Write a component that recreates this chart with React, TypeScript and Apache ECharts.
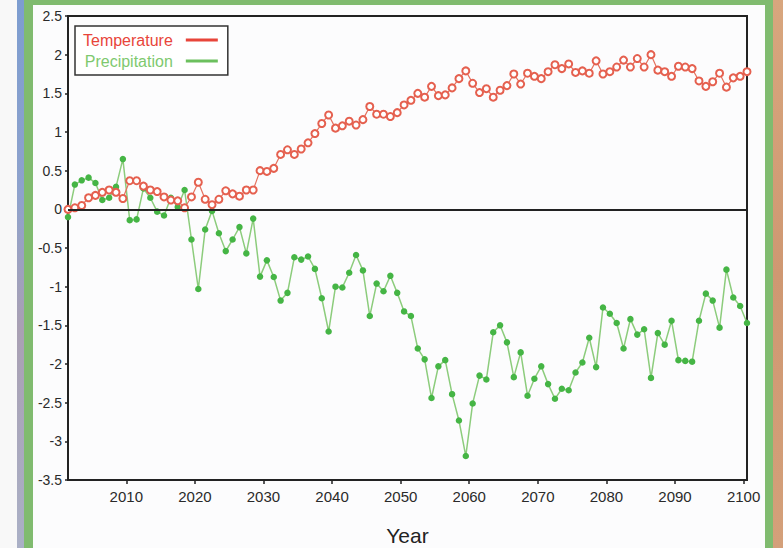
import React, { useEffect, useRef } from "react";
import * as echarts from "echarts";

const years: number[] = Array.from({ length: 100 }, (_, i) => 2001 + i);

const temperature: number[] = [
  0.0, 0.02, 0.05, 0.15, 0.18, 0.22, 0.25, 0.22, 0.14, 0.37,
  0.37, 0.3, 0.25, 0.23, 0.16, 0.12, 0.11, 0.02, 0.16, 0.35,
  0.13, 0.06, 0.13, 0.24, 0.2, 0.17, 0.25, 0.25, 0.5, 0.49,
  0.53, 0.71, 0.77, 0.71, 0.78, 0.86, 0.98, 1.11, 1.22, 1.05,
  1.08, 1.14, 1.09, 1.16, 1.33, 1.23, 1.23, 1.2, 1.25, 1.35,
  1.41, 1.5, 1.45, 1.59, 1.47, 1.48, 1.57, 1.69, 1.79, 1.63,
  1.51, 1.56, 1.45, 1.54, 1.6, 1.75, 1.62, 1.76, 1.72, 1.69,
  1.78, 1.87, 1.82, 1.88, 1.77, 1.79, 1.76, 1.92, 1.75, 1.78,
  1.84, 1.93, 1.84, 1.95, 1.84, 2.0, 1.8, 1.78, 1.72, 1.85,
  1.84, 1.82, 1.66, 1.59, 1.65, 1.76, 1.58, 1.7, 1.72, 1.78,
];

const precipitation: number[] = [
  -0.1, 0.32, 0.375, 0.41, 0.34, 0.12, 0.15, 0.29, 0.65, -0.14,
  -0.13, 0.27, 0.15, -0.03, -0.08, 0.15, 0.03, 0.25, -0.39, -1.03,
  -0.26, -0.02, -0.31, -0.54, -0.39, -0.23, -0.57, -0.12, -0.87, -0.66,
  -0.875, -1.18, -1.08, -0.62, -0.65, -0.61, -0.77, -1.15, -1.58, -1.0,
  -1.01, -0.82, -0.59, -0.79, -1.38, -0.96, -1.06, -0.86, -1.08, -1.32,
  -1.38, -1.8, -1.94, -2.44, -2.03, -1.95, -2.39, -2.73, -3.19, -2.51,
  -2.15, -2.2, -1.59, -1.5, -1.72, -2.17, -1.85, -2.41, -2.19, -2.03,
  -2.26, -2.45, -2.32, -2.34, -2.11, -1.98, -1.66, -2.04, -1.27, -1.35,
  -1.47, -1.8, -1.42, -1.62, -1.55, -2.18, -1.6, -1.75, -1.44, -1.95,
  -1.96, -1.97, -1.44, -1.09, -1.18, -1.53, -0.78, -1.14, -1.25, -1.47,
];

const xTickYears: number[] = [2010, 2020, 2030, 2040, 2050, 2060, 2070, 2080, 2090, 2100];

const FONT = '"Liberation Sans", Arial, Helvetica, sans-serif';

export default function App() {
  const ref = useRef<HTMLDivElement>(null);

  useEffect(() => {
    if (!ref.current) return;
    const chart = echarts.init(ref.current, null, { renderer: "svg" });
    const option: any = {
      animation: false,
      backgroundColor: "transparent",
      grid: {
        left: 68,
        right: 36,
        top: 16,
        bottom: 68,
        containLabel: false,
        outerBoundsMode: "none",
        show: true,
        borderColor: "#222",
        borderWidth: 2,
        backgroundColor: "transparent",
      },
      legend: {
        orient: "vertical",
        left: 75,
        top: 26,
        align: "right",
        icon: "rect",
        itemWidth: 32,
        itemHeight: 3,
        itemGap: 5,
        padding: [6, 10, 6, 8],
        borderColor: "#333",
        borderWidth: 1.5,
        backgroundColor: "#fff",
        textStyle: { fontSize: 16, fontFamily: FONT, padding: [0, 8, 0, 0] },
        data: [
          { name: "Temperature", textStyle: { color: "#e8453a" }, itemStyle: { color: "#e8453a" } },
          { name: "Precipitation", textStyle: { color: "#7ec96f" }, itemStyle: { color: "#6cc05e" } },
        ],
      },
      xAxis: {
        type: "value",
        min: 2001.5,
        max: 2100.5,
        name: "Year",
        nameLocation: "middle",
        nameGap: 45,
        nameTextStyle: { fontSize: 21, lineHeight: 21, color: "#222", fontFamily: FONT },
        axisLine: { show: true, onZero: false, lineStyle: { color: "#222", width: 2 } },
        axisTick: { show: true, customValues: xTickYears, length: 4, lineStyle: { color: "#222", width: 1.5 } },
        axisLabel: {
          customValues: xTickYears,
          color: "#2a2a2a",
          fontSize: 15,
          fontFamily: FONT,
          margin: 9,
          formatter: (v: number) => String(v),
        },
        splitLine: { show: false },
      },
      yAxis: {
        type: "value",
        min: -3.5,
        max: 2.5,
        interval: 0.5,
        axisLine: { show: true, onZero: false, lineStyle: { color: "#222", width: 2 } },
        axisTick: { show: true, length: 3, lineStyle: { color: "#222", width: 1.5 } },
        axisLabel: { color: "#2a2a2a", fontSize: 14, fontFamily: FONT, margin: 6 },
        splitLine: { show: false },
      },
      series: [
        {
          name: "Precipitation",
          type: "line",
          data: years.map((y, i) => [y + 0.5, precipitation[i]]),
          symbol: "circle",
          symbolSize: 6.5,
          itemStyle: { color: "#45b545" },
          lineStyle: { color: "#8ccc7c", width: 1.5 },
          z: 2,
          markLine: {
            silent: true,
            symbol: "none",
            label: { show: false },
            lineStyle: { color: "#222", width: 2, type: "solid" },
            data: [{ yAxis: 0 }],
          },
        },
        {
          name: "Temperature",
          type: "line",
          data: years.map((y, i) => [y + 0.5, temperature[i]]),
          symbol: "emptyCircle",
          symbolSize: 7,
          itemStyle: { color: "#e5604f", borderWidth: 1.3 },
          lineStyle: { color: "#e5725f", width: 1.2 },
          z: 3,
        },
      ],
    };
    chart.setOption(option);
    return () => chart.dispose();
  }, []);

  return (
    <div
      style={{
        position: "fixed",
        left: 0,
        top: 0,
        width: 783,
        height: 548,
        overflow: "hidden",
        background: "#f8f8f8",
      }}
    >
      <div
        style={{
          position: "absolute",
          left: 17,
          top: 0,
          width: 7,
          height: 548,
          background: "linear-gradient(#7d9dd0 0%, #8ea2cc 35%, #a9a0b3 60%, #aab0c6 100%)",
        }}
      />
      <div style={{ position: "absolute", left: 24, top: 0, width: 749, height: 548, background: "#80bb6f" }} />
      <div
        style={{
          position: "absolute",
          left: 773,
          top: 0,
          width: 10,
          height: 548,
          background: "linear-gradient(#d8a67e, #cf9872 50%, #d4a07a)",
        }}
      />
      <div style={{ position: "absolute", left: 33, top: 5, width: 732, height: 543, background: "#fcfcfd" }} />
      <div ref={ref} style={{ position: "absolute", left: 0, top: 0, width: 783, height: 548 }} />
    </div>
  );
}
